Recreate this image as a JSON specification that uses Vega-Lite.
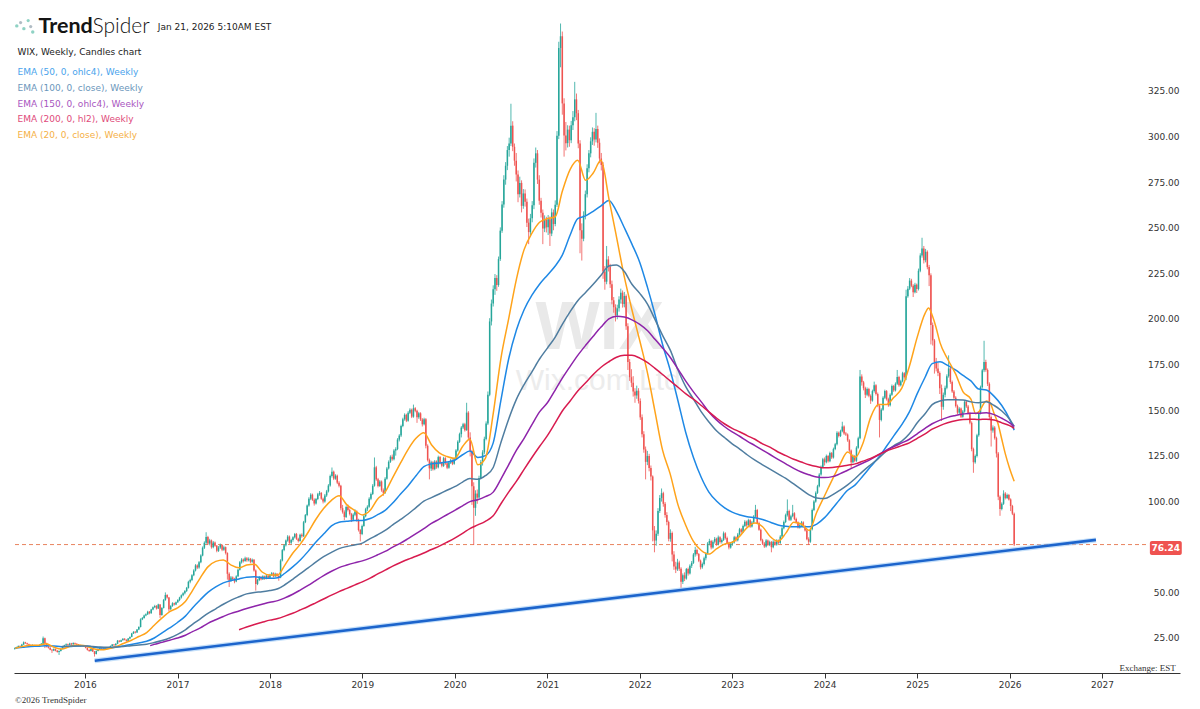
{
"$schema":"https://vega.github.io/schema/vega-lite/v6.json",
"width":1166,"height":673,
"autosize":{"type":"none"},
"padding":{"left":14,"top":0,"right":20,"bottom":36},
"background":"#ffffff",
"config":{"view":{"stroke":null},"font":"DejaVu Sans"},
"data":{"values":[{}]},
"layer":[
{"mark":{"type":"text","align":"center","baseline":"middle","font":"Liberation Sans","fontWeight":"bold","fontSize":68,"color":"#e9e9e9"},"encoding":{"x":{"datum":{"year":2021,"month":7,"date":27},"type":"temporal"},"y":{"datum":194.5,"type":"quantitative"},"text":{"value":"WIX"}}},
{"mark":{"type":"text","align":"center","baseline":"middle","font":"Liberation Sans","fontSize":30,"color":"#ececec"},"encoding":{"x":{"datum":{"year":2021,"month":7,"date":21},"type":"temporal"},"y":{"datum":166.0,"type":"quantitative"},"text":{"value":"Wix.com Ltd"}}},
{"mark":{"type":"rule","strokeDash":[4,3],"color":"#e8845e","strokeWidth":1},"encoding":{"x":{"datum":{"year":2015,"month":3,"date":31},"type":"temporal"},"x2":{"datum":{"year":2027,"month":7,"date":1}},"y":{"datum":76.24,"type":"quantitative"}}},
{"data":{"values":"d,o,h,l,c\n2015-03-30,19.0,19.8,18.6,19.4\n2015-04-06,19.4,20.2,19.1,19.9\n2015-04-13,19.9,20.9,19.6,20.6\n2015-04-20,20.6,21.0,20.0,20.3\n2015-04-27,20.3,21.8,20.1,21.4\n2015-05-04,21.4,23.1,21.2,22.6\n2015-05-11,22.6,22.9,21.8,22.1\n2015-05-18,22.1,22.4,21.3,21.6\n2015-05-25,21.6,21.9,20.7,21.0\n2015-06-01,21.0,21.4,20.5,20.8\n2015-06-08,20.8,21.5,20.6,21.1\n2015-06-15,21.1,21.3,20.2,20.5\n2015-06-22,20.5,21.3,20.3,21.0\n2015-06-29,21.0,21.2,20.3,20.7\n2015-07-06,20.7,21.5,20.4,21.2\n2015-07-13,21.2,22.2,21.0,21.9\n2015-07-20,21.9,25.8,21.7,24.9\n2015-07-27,24.9,25.2,19.5,22.1\n2015-08-03,22.1,22.4,19.8,20.2\n2015-08-10,20.2,20.6,19.2,19.6\n2015-08-17,19.6,19.9,18.3,18.6\n2015-08-24,18.6,19.0,16.8,18.1\n2015-08-31,18.1,19.3,17.8,18.9\n2015-09-07,18.9,19.2,17.7,18.0\n2015-09-14,18.0,18.4,17.0,17.3\n2015-09-21,17.3,18.2,15.7,17.9\n2015-09-28,17.9,19.3,17.6,19.0\n2015-10-05,19.0,20.6,18.8,20.3\n2015-10-12,20.3,21.3,20.0,21.0\n2015-10-19,21.0,22.0,20.7,21.6\n2015-10-26,21.6,21.9,20.8,21.2\n2015-11-02,21.2,22.4,21.0,22.0\n2015-11-09,22.0,22.3,21.2,21.5\n2015-11-16,21.5,22.6,21.3,22.3\n2015-11-23,22.3,22.5,21.5,21.8\n2015-11-30,21.8,22.1,21.1,21.4\n2015-12-07,21.4,21.7,20.6,21.0\n2015-12-14,21.0,21.3,20.2,20.6\n2015-12-21,20.6,21.2,20.4,20.9\n2015-12-28,20.9,21.2,20.1,20.4\n2016-01-04,20.4,20.6,19.3,19.6\n2016-01-11,19.6,19.9,18.1,18.4\n2016-01-18,18.4,18.8,17.4,17.8\n2016-01-25,17.8,19.2,17.6,18.9\n2016-02-01,18.9,19.1,17.3,17.6\n2016-02-08,17.6,17.9,14.8,16.2\n2016-02-15,16.2,18.2,16.0,17.9\n2016-02-22,17.9,19.1,17.7,18.8\n2016-02-29,18.8,19.8,18.5,19.5\n2016-03-07,19.5,19.9,18.9,19.2\n2016-03-14,19.2,19.6,18.5,18.8\n2016-03-21,18.8,19.9,18.6,19.6\n2016-03-28,19.6,19.8,19.0,19.3\n2016-04-04,19.3,20.1,19.1,19.8\n2016-04-11,19.8,20.9,19.6,20.6\n2016-04-18,20.6,21.7,20.4,21.4\n2016-04-25,21.4,21.6,20.7,21.0\n2016-05-02,21.0,22.1,20.8,21.8\n2016-05-09,21.8,23.9,21.6,23.5\n2016-05-16,23.5,23.8,22.6,23.0\n2016-05-23,23.0,24.1,22.8,23.8\n2016-05-30,23.8,24.9,23.6,24.6\n2016-06-06,24.6,24.9,23.7,24.0\n2016-06-13,24.0,24.3,23.0,23.4\n2016-06-20,23.4,25.0,23.2,24.7\n2016-06-27,24.7,25.9,24.3,25.6\n2016-07-04,25.6,27.8,25.4,27.5\n2016-07-11,27.5,28.7,27.2,28.4\n2016-07-18,28.4,28.8,27.5,28.0\n2016-07-25,28.0,29.9,27.8,29.6\n2016-08-01,29.6,31.4,29.3,31.0\n2016-08-08,31.0,35.8,30.8,35.2\n2016-08-15,35.2,36.5,34.8,36.0\n2016-08-22,36.0,37.8,35.6,37.4\n2016-08-29,37.4,38.5,36.9,38.0\n2016-09-05,38.0,39.9,37.6,39.4\n2016-09-12,39.4,39.8,38.0,38.6\n2016-09-19,38.6,41.0,38.3,40.6\n2016-09-26,40.6,42.3,40.2,41.8\n2016-10-03,41.8,43.2,41.4,42.6\n2016-10-10,42.6,43.0,40.6,41.2\n2016-10-17,41.2,43.8,40.9,43.4\n2016-10-24,43.4,43.6,36.0,37.6\n2016-10-31,37.6,41.9,37.2,41.5\n2016-11-07,41.5,46.4,41.2,45.8\n2016-11-14,45.8,50.0,45.4,48.6\n2016-11-21,48.6,49.0,46.6,47.2\n2016-11-28,47.2,47.5,39.5,40.8\n2016-12-05,40.8,43.0,40.4,42.5\n2016-12-12,42.5,44.6,42.1,44.0\n2016-12-19,44.0,44.4,42.8,43.4\n2016-12-26,43.4,45.0,43.0,44.6\n2017-01-02,44.6,46.3,44.2,45.8\n2017-01-09,45.8,47.6,45.2,47.2\n2017-01-16,47.2,48.9,46.6,48.4\n2017-01-23,48.4,50.1,47.9,49.6\n2017-01-30,49.6,51.3,48.9,50.8\n2017-02-06,50.8,53.0,50.2,52.5\n2017-02-13,52.5,56.4,52.1,55.8\n2017-02-20,55.8,57.5,55.0,56.8\n2017-02-27,56.8,60.0,56.2,59.4\n2017-03-06,59.4,62.7,58.9,62.0\n2017-03-13,62.0,65.5,61.5,64.8\n2017-03-20,64.8,65.4,62.8,63.6\n2017-03-27,63.6,67.2,63.0,66.5\n2017-04-03,66.5,70.9,66.0,70.2\n2017-04-10,70.2,75.2,69.8,74.5\n2017-04-17,74.5,78.0,73.8,77.2\n2017-04-24,77.2,83.0,76.4,80.4\n2017-05-01,80.4,81.0,76.0,76.8\n2017-05-08,76.8,79.4,75.8,78.5\n2017-05-15,78.5,79.0,74.0,74.8\n2017-05-22,74.8,78.2,74.2,77.4\n2017-05-29,77.4,77.9,75.0,75.6\n2017-06-05,75.6,76.0,72.0,72.8\n2017-06-12,72.8,75.4,72.2,74.6\n2017-06-19,74.6,76.8,73.9,76.0\n2017-06-26,76.0,76.4,72.6,73.4\n2017-07-03,73.4,75.6,72.8,74.8\n2017-07-10,74.8,75.2,70.8,71.6\n2017-07-17,71.6,72.0,57.0,60.2\n2017-07-24,60.2,61.0,53.0,56.5\n2017-07-31,56.5,59.0,55.8,58.2\n2017-08-07,58.2,58.8,56.6,57.4\n2017-08-14,57.4,58.0,55.0,56.0\n2017-08-21,56.0,59.4,55.6,58.8\n2017-08-28,58.8,63.0,58.4,62.4\n2017-09-04,62.4,67.2,62.0,66.5\n2017-09-11,66.5,68.8,65.8,68.0\n2017-09-18,68.0,68.6,66.4,67.2\n2017-09-25,67.2,69.6,66.8,68.8\n2017-10-02,68.8,69.4,66.8,67.6\n2017-10-09,67.6,69.2,67.0,68.4\n2017-10-16,68.4,68.9,66.0,66.8\n2017-10-23,66.8,68.6,66.2,67.9\n2017-10-30,67.9,68.3,61.4,62.0\n2017-11-06,62.0,62.6,51.0,54.6\n2017-11-13,54.6,57.4,54.0,56.8\n2017-11-20,56.8,59.0,56.2,58.4\n2017-11-27,58.4,59.0,56.6,57.2\n2017-12-04,57.2,59.4,56.8,58.8\n2017-12-11,58.8,59.2,56.9,57.6\n2017-12-18,57.6,59.8,57.2,59.2\n2017-12-25,59.2,59.6,57.4,58.0\n2018-01-01,58.0,60.2,57.6,59.6\n2018-01-08,59.6,61.2,59.0,60.5\n2018-01-15,60.5,61.0,58.2,58.8\n2018-01-22,58.8,60.8,58.4,60.2\n2018-01-29,60.2,60.6,58.4,59.0\n2018-02-05,59.0,59.6,56.4,58.2\n2018-02-12,58.2,68.2,57.8,67.5\n2018-02-19,67.5,73.8,67.0,73.2\n2018-02-26,73.2,76.4,72.6,75.8\n2018-03-05,75.8,79.0,75.2,78.4\n2018-03-12,78.4,81.4,77.8,80.6\n2018-03-19,80.6,81.2,76.6,77.2\n2018-03-26,77.2,79.4,76.4,78.8\n2018-04-02,78.8,80.8,77.8,80.2\n2018-04-09,80.2,82.6,79.6,82.0\n2018-04-16,82.0,82.6,78.8,79.4\n2018-04-23,79.4,80.0,77.4,78.2\n2018-04-30,78.2,82.2,77.8,81.6\n2018-05-07,81.6,82.4,80.0,80.8\n2018-05-14,80.8,89.2,80.4,88.5\n2018-05-21,88.5,93.0,88.0,92.4\n2018-05-28,92.4,98.2,91.8,97.6\n2018-06-04,97.6,102.2,97.0,101.4\n2018-06-11,101.4,104.4,100.6,103.6\n2018-06-18,103.6,104.2,100.2,100.8\n2018-06-25,100.8,101.6,97.6,98.8\n2018-07-02,98.8,101.8,98.2,101.2\n2018-07-09,101.2,104.6,100.6,103.8\n2018-07-16,103.8,105.6,103.0,104.6\n2018-07-23,104.6,105.0,100.8,101.4\n2018-07-30,101.4,102.0,98.8,99.8\n2018-08-06,99.8,104.0,99.2,103.2\n2018-08-13,103.2,106.2,102.4,105.4\n2018-08-20,105.4,109.4,104.8,108.6\n2018-08-27,108.6,114.6,108.0,113.8\n2018-09-03,113.8,118.5,113.0,116.2\n2018-09-10,116.2,116.8,111.6,112.4\n2018-09-17,112.4,114.8,111.8,114.0\n2018-09-24,114.0,114.6,109.4,110.2\n2018-10-01,110.2,111.0,107.6,108.5\n2018-10-08,108.5,109.0,95.0,96.2\n2018-10-15,96.2,98.0,93.2,94.0\n2018-10-22,94.0,95.0,89.6,91.4\n2018-10-29,91.4,97.6,90.8,96.8\n2018-11-05,96.8,98.2,94.4,95.2\n2018-11-12,95.2,96.0,92.2,93.0\n2018-11-19,93.0,93.6,88.6,89.8\n2018-11-26,89.8,93.4,89.2,92.6\n2018-12-03,92.6,95.6,91.8,94.4\n2018-12-10,94.4,95.0,88.8,89.6\n2018-12-17,89.6,90.4,83.4,84.2\n2018-12-24,84.2,84.8,78.0,82.0\n2018-12-31,82.0,87.2,81.4,86.4\n2019-01-07,86.4,92.6,86.0,91.8\n2019-01-14,91.8,96.4,91.2,95.6\n2019-01-21,95.6,97.8,94.6,97.0\n2019-01-28,97.0,102.2,96.4,101.4\n2019-02-04,101.4,104.8,100.6,104.0\n2019-02-11,104.0,109.4,103.4,108.5\n2019-02-18,108.5,124.0,108.0,118.6\n2019-02-25,118.6,119.4,111.2,112.0\n2019-03-04,112.0,112.8,107.6,108.4\n2019-03-11,108.4,111.6,107.8,110.8\n2019-03-18,110.8,111.4,105.2,106.0\n2019-03-25,106.0,107.0,103.0,104.6\n2019-04-01,104.6,113.2,104.0,112.4\n2019-04-08,112.4,118.8,111.8,118.0\n2019-04-15,118.0,122.4,117.4,121.6\n2019-04-22,121.6,125.2,121.0,124.4\n2019-04-29,124.4,125.6,122.2,123.0\n2019-05-06,123.0,128.6,122.4,127.8\n2019-05-13,127.8,129.6,125.0,128.6\n2019-05-20,128.6,134.6,128.0,133.8\n2019-05-27,133.8,136.8,132.8,136.0\n2019-06-03,136.0,142.0,135.2,141.2\n2019-06-10,141.2,145.8,140.6,145.0\n2019-06-17,145.0,148.2,144.2,147.4\n2019-06-24,147.4,148.0,143.4,144.2\n2019-07-01,144.2,149.4,143.6,148.6\n2019-07-08,148.6,151.0,147.8,150.2\n2019-07-15,150.2,150.8,145.6,146.4\n2019-07-22,146.4,153.0,145.8,151.0\n2019-07-29,151.0,151.6,148.8,149.6\n2019-08-05,149.6,150.2,143.0,146.0\n2019-08-12,146.0,149.0,145.2,148.2\n2019-08-19,148.2,148.8,144.0,144.8\n2019-08-26,144.8,145.6,141.0,142.2\n2019-09-02,142.2,145.8,141.6,145.0\n2019-09-09,145.0,145.6,129.0,130.4\n2019-09-16,130.4,131.2,121.8,122.6\n2019-09-23,122.6,123.4,112.0,118.0\n2019-09-30,118.0,122.2,116.6,121.4\n2019-10-07,121.4,122.0,116.8,117.6\n2019-10-14,117.6,122.6,117.0,121.8\n2019-10-21,121.8,122.4,117.8,118.6\n2019-10-28,118.6,125.0,118.0,124.2\n2019-11-04,124.2,124.8,120.2,121.0\n2019-11-11,121.0,121.6,118.6,119.4\n2019-11-18,119.4,124.4,118.8,123.6\n2019-11-25,123.6,124.2,120.0,120.8\n2019-12-02,120.8,121.4,117.6,118.4\n2019-12-09,118.4,122.0,117.8,121.2\n2019-12-16,121.2,123.2,120.4,122.4\n2019-12-23,122.4,123.0,119.8,120.6\n2019-12-30,120.6,124.0,120.0,123.2\n2020-01-06,123.2,128.6,122.6,127.8\n2020-01-13,127.8,133.4,127.2,132.6\n2020-01-20,132.6,137.6,132.0,136.8\n2020-01-27,136.8,141.2,135.0,140.4\n2020-02-03,140.4,143.0,139.6,142.2\n2020-02-10,142.2,143.0,138.2,139.0\n2020-02-17,139.0,154.0,138.6,148.6\n2020-02-24,148.6,149.4,133.6,135.0\n2020-03-02,135.0,137.8,124.6,127.5\n2020-03-09,127.5,128.2,98.0,108.2\n2020-03-16,108.2,110.4,76.0,96.4\n2020-03-23,96.4,106.0,92.0,104.2\n2020-03-30,104.2,106.4,98.6,102.0\n2020-04-06,102.0,114.0,101.4,112.8\n2020-04-13,112.8,122.6,112.0,121.4\n2020-04-20,121.4,128.0,119.6,126.8\n2020-04-27,126.8,135.4,125.8,134.2\n2020-05-04,134.2,143.8,133.4,142.6\n2020-05-11,142.6,160.2,141.8,158.4\n2020-05-18,158.4,200.4,157.6,198.6\n2020-05-25,198.6,210.6,196.4,208.4\n2020-06-01,208.4,218.4,206.8,216.2\n2020-06-08,216.2,224.6,213.2,222.4\n2020-06-15,222.4,224.0,215.4,218.6\n2020-06-22,218.6,234.2,217.6,232.8\n2020-06-29,232.8,250.2,231.8,248.4\n2020-07-06,248.4,264.6,247.2,262.8\n2020-07-13,262.8,278.8,261.0,276.4\n2020-07-20,276.4,286.0,273.6,284.0\n2020-07-27,284.0,294.8,281.6,292.6\n2020-08-03,292.6,299.4,289.0,296.2\n2020-08-10,296.2,318.0,294.8,306.0\n2020-08-17,306.0,308.4,292.0,294.4\n2020-08-24,294.4,296.2,284.0,286.8\n2020-08-31,286.8,291.0,275.4,279.2\n2020-09-07,279.2,281.4,264.0,268.4\n2020-09-14,268.4,278.0,266.6,274.6\n2020-09-21,274.6,276.0,258.4,262.0\n2020-09-28,262.0,271.2,260.4,268.8\n2020-10-05,268.8,271.0,261.6,264.2\n2020-10-12,264.2,266.0,250.4,252.8\n2020-10-19,252.8,255.0,241.0,247.6\n2020-10-26,247.6,257.6,245.2,255.2\n2020-11-02,255.2,264.6,253.0,262.4\n2020-11-09,262.4,288.0,260.2,285.6\n2020-11-16,285.6,294.0,283.0,290.8\n2020-11-23,290.8,292.6,274.0,276.4\n2020-11-30,276.4,278.8,262.6,264.8\n2020-12-07,264.8,266.4,255.6,258.2\n2020-12-14,258.2,260.0,241.0,249.6\n2020-12-21,249.6,256.8,247.6,254.4\n2020-12-28,254.4,256.0,247.4,250.2\n2021-01-04,250.2,257.0,246.0,254.6\n2021-01-11,254.6,256.2,240.0,246.8\n2021-01-18,246.8,260.6,245.4,258.4\n2021-01-25,258.4,260.0,248.6,252.0\n2021-02-01,252.0,265.0,250.8,262.6\n2021-02-08,262.6,303.0,261.4,300.4\n2021-02-15,300.4,352.0,298.6,348.6\n2021-02-22,348.6,362.0,338.0,355.0\n2021-03-01,355.0,357.6,312.0,318.2\n2021-03-08,318.2,321.0,289.0,300.6\n2021-03-15,300.6,308.0,292.4,296.4\n2021-03-22,296.4,306.2,294.0,303.8\n2021-03-29,303.8,306.0,294.4,298.0\n2021-04-05,298.0,308.6,296.4,306.2\n2021-04-12,306.2,314.0,303.6,310.6\n2021-04-19,310.6,330.0,308.4,320.4\n2021-04-26,320.4,323.6,309.0,312.8\n2021-05-03,312.8,314.6,293.6,296.2\n2021-05-10,296.2,298.0,236.0,248.6\n2021-05-17,248.6,252.4,232.0,244.0\n2021-05-24,244.0,259.0,242.6,256.8\n2021-05-31,256.8,270.4,254.6,268.4\n2021-06-07,268.4,284.8,266.6,282.6\n2021-06-14,282.6,292.6,280.4,290.8\n2021-06-21,290.8,299.6,288.6,297.4\n2021-06-28,297.4,305.0,295.4,302.6\n2021-07-05,302.6,304.6,295.0,298.4\n2021-07-12,298.4,313.0,296.8,304.2\n2021-07-19,304.2,306.0,293.8,296.6\n2021-07-26,296.6,299.0,285.4,288.0\n2021-08-02,288.0,291.0,281.4,284.4\n2021-08-09,284.4,286.0,222.0,226.0\n2021-08-16,226.0,229.0,216.0,220.4\n2021-08-23,220.4,240.0,219.0,232.6\n2021-08-30,232.6,234.4,226.0,228.8\n2021-09-06,228.8,230.2,217.0,219.0\n2021-09-13,219.0,221.0,208.0,210.2\n2021-09-20,210.2,212.0,203.4,206.4\n2021-09-27,206.4,208.0,198.6,202.0\n2021-10-04,202.0,207.8,199.8,205.8\n2021-10-11,205.8,212.4,204.0,210.6\n2021-10-18,210.6,216.6,208.4,214.4\n2021-10-25,214.4,215.6,206.2,208.2\n2021-11-01,208.2,214.8,206.4,212.6\n2021-11-08,212.6,213.4,194.0,196.0\n2021-11-15,196.0,197.6,172.0,176.4\n2021-11-22,176.4,178.0,166.0,168.0\n2021-11-29,168.0,172.4,162.6,165.0\n2021-12-06,165.0,168.6,157.4,160.2\n2021-12-13,160.2,162.0,154.0,158.0\n2021-12-20,158.0,163.4,156.2,160.6\n2021-12-27,160.6,162.0,153.6,155.0\n2022-01-03,155.0,156.4,144.6,146.0\n2022-01-10,146.0,147.6,135.0,136.8\n2022-01-17,136.8,138.4,126.6,128.4\n2022-01-24,128.4,130.0,112.0,121.6\n2022-01-31,121.6,127.6,119.8,124.8\n2022-02-07,124.8,126.0,116.4,118.2\n2022-02-14,118.2,119.6,111.4,113.6\n2022-02-21,113.6,114.2,78.0,84.0\n2022-02-28,84.0,86.4,72.0,78.4\n2022-03-07,78.4,84.0,75.6,82.2\n2022-03-14,82.2,96.2,81.0,94.6\n2022-03-21,94.6,103.4,93.6,101.8\n2022-03-28,101.8,107.0,99.8,104.4\n2022-04-04,104.4,105.2,97.0,98.6\n2022-04-11,98.6,99.6,91.0,92.4\n2022-04-18,92.4,94.0,86.8,88.6\n2022-04-25,88.6,89.4,78.0,79.4\n2022-05-02,79.4,84.6,77.8,82.6\n2022-05-09,82.6,83.4,67.0,70.8\n2022-05-16,70.8,72.6,62.4,64.2\n2022-05-23,64.2,66.8,60.6,62.6\n2022-05-30,62.6,68.4,61.8,66.4\n2022-06-06,66.4,67.4,61.8,63.0\n2022-06-13,63.0,63.8,52.5,55.8\n2022-06-20,55.8,60.4,54.6,59.4\n2022-06-27,59.4,61.0,56.2,57.6\n2022-07-04,57.6,63.4,57.0,62.8\n2022-07-11,62.8,63.6,59.2,60.4\n2022-07-18,60.4,65.4,59.8,64.6\n2022-07-25,64.6,67.2,63.4,66.2\n2022-08-01,66.2,71.6,65.6,70.8\n2022-08-08,70.8,75.0,69.6,73.2\n2022-08-15,73.2,74.0,70.2,71.0\n2022-08-22,71.0,71.6,66.6,67.4\n2022-08-29,67.4,68.0,62.6,63.8\n2022-09-05,63.8,66.4,63.0,65.6\n2022-09-12,65.6,69.6,64.8,68.8\n2022-09-19,68.8,72.0,67.6,71.4\n2022-09-26,71.4,77.6,70.8,76.8\n2022-10-03,76.8,79.4,75.8,78.2\n2022-10-10,78.2,78.8,73.6,74.6\n2022-10-17,74.6,78.6,74.0,77.8\n2022-10-24,77.8,80.4,76.8,79.4\n2022-10-31,79.4,80.0,75.6,76.4\n2022-11-07,76.4,81.2,75.8,80.2\n2022-11-14,80.2,80.8,76.8,77.6\n2022-11-21,77.6,79.6,76.8,78.8\n2022-11-28,78.8,83.4,78.2,82.4\n2022-12-05,82.4,83.0,79.0,79.8\n2022-12-12,79.8,80.6,76.2,77.0\n2022-12-19,77.0,77.8,73.6,74.6\n2022-12-26,74.6,77.6,74.0,76.8\n2023-01-02,76.8,78.2,75.6,77.4\n2023-01-09,77.4,81.0,76.8,80.2\n2023-01-16,80.2,80.8,77.8,78.6\n2023-01-23,78.6,82.6,78.0,81.8\n2023-01-30,81.8,85.4,81.2,84.6\n2023-02-06,84.6,85.2,82.4,83.2\n2023-02-13,83.2,87.2,82.6,86.4\n2023-02-20,86.4,89.6,85.8,88.8\n2023-02-27,88.8,89.4,86.0,86.8\n2023-03-06,86.8,90.4,86.2,89.6\n2023-03-13,89.6,90.2,85.4,86.2\n2023-03-20,86.2,89.2,85.6,88.4\n2023-03-27,88.4,92.4,87.8,91.6\n2023-04-03,91.6,98.0,91.0,95.2\n2023-04-10,95.2,95.8,87.4,88.0\n2023-04-17,88.0,88.8,83.8,84.4\n2023-04-24,84.4,85.0,78.0,78.6\n2023-05-01,78.6,79.4,76.0,76.8\n2023-05-08,76.8,77.6,74.4,75.2\n2023-05-15,75.2,79.2,74.6,78.4\n2023-05-22,78.4,79.0,75.4,76.0\n2023-05-29,76.0,78.4,75.4,77.6\n2023-06-05,77.6,78.2,72.0,74.8\n2023-06-12,74.8,78.6,74.2,77.8\n2023-06-19,77.8,78.4,75.6,76.2\n2023-06-26,76.2,79.2,75.6,78.4\n2023-07-03,78.4,79.0,76.6,77.2\n2023-07-10,77.2,81.4,76.6,80.6\n2023-07-17,80.6,86.0,80.0,85.2\n2023-07-24,85.2,89.4,84.6,88.6\n2023-07-31,88.6,93.2,88.0,92.4\n2023-08-07,92.4,101.0,91.6,94.6\n2023-08-14,94.6,95.4,89.2,89.8\n2023-08-21,89.8,92.6,89.2,91.8\n2023-08-28,91.8,98.0,91.2,93.4\n2023-09-04,93.4,94.0,89.6,90.2\n2023-09-11,90.2,91.0,87.8,88.4\n2023-09-18,88.4,89.0,85.0,85.6\n2023-09-25,85.6,87.6,85.0,86.8\n2023-10-02,86.8,89.2,86.2,88.4\n2023-10-09,88.4,89.0,85.6,86.2\n2023-10-16,86.2,86.8,83.4,84.0\n2023-10-23,84.0,84.6,78.6,79.2\n2023-10-30,79.2,80.2,76.0,77.8\n2023-11-06,77.8,85.4,77.2,84.6\n2023-11-13,84.6,96.0,84.0,95.2\n2023-11-20,95.2,100.6,94.6,99.8\n2023-11-27,99.8,105.4,99.2,104.6\n2023-12-04,104.6,109.0,104.0,108.2\n2023-12-11,108.2,115.4,107.6,114.6\n2023-12-18,114.6,119.6,114.0,118.8\n2023-12-25,118.8,123.8,118.2,123.0\n2024-01-01,123.0,124.0,119.6,121.4\n2024-01-08,121.4,125.6,120.8,124.8\n2024-01-15,124.8,125.4,121.2,122.0\n2024-01-22,122.0,127.2,121.4,126.4\n2024-01-29,126.4,127.0,123.2,124.0\n2024-02-05,124.0,129.4,123.4,128.6\n2024-02-12,128.6,132.0,128.0,131.2\n2024-02-19,131.2,138.4,130.6,137.6\n2024-02-26,137.6,138.2,135.0,135.8\n2024-03-04,135.8,139.2,135.2,138.4\n2024-03-11,138.4,143.6,137.8,141.0\n2024-03-18,141.0,141.6,136.4,137.2\n2024-03-25,137.2,138.0,135.8,136.6\n2024-04-01,136.6,137.2,132.6,133.4\n2024-04-08,133.4,134.0,127.0,127.8\n2024-04-15,127.8,128.4,118.0,121.4\n2024-04-22,121.4,125.6,120.8,124.8\n2024-04-29,124.8,125.4,121.4,122.2\n2024-05-06,122.2,130.2,121.6,129.4\n2024-05-13,129.4,135.4,128.8,134.6\n2024-05-20,134.6,172.0,134.0,168.4\n2024-05-27,168.4,169.6,163.4,165.2\n2024-06-03,165.2,166.0,160.8,162.0\n2024-06-10,162.0,162.8,156.6,158.4\n2024-06-17,158.4,162.4,157.6,161.6\n2024-06-24,161.6,162.2,157.0,157.8\n2024-07-01,157.8,158.6,153.4,155.2\n2024-07-08,155.2,161.2,154.6,160.4\n2024-07-15,160.4,165.6,159.6,163.6\n2024-07-22,163.6,164.2,158.0,158.8\n2024-07-29,158.8,159.6,151.6,152.4\n2024-08-05,152.4,153.2,135.0,144.6\n2024-08-12,144.6,151.0,143.8,150.2\n2024-08-19,150.2,157.6,149.6,156.8\n2024-08-26,156.8,161.2,156.0,160.4\n2024-09-02,160.4,161.0,155.2,156.0\n2024-09-09,156.0,156.8,151.8,152.6\n2024-09-16,152.6,159.2,152.0,158.4\n2024-09-23,158.4,164.0,157.8,163.2\n2024-09-30,163.2,163.8,160.0,160.8\n2024-10-07,160.8,165.2,160.2,164.4\n2024-10-14,164.4,172.0,163.8,168.2\n2024-10-21,168.2,168.8,162.8,163.6\n2024-10-28,163.6,166.6,163.0,165.8\n2024-11-04,165.8,171.0,165.2,170.2\n2024-11-11,170.2,170.8,167.2,168.0\n2024-11-18,168.0,216.0,166.4,212.4\n2024-11-25,212.4,218.0,211.6,216.6\n2024-12-02,216.6,222.4,215.8,221.0\n2024-12-09,221.0,222.0,217.4,218.2\n2024-12-16,218.2,219.0,212.0,214.6\n2024-12-23,214.6,219.8,214.0,218.8\n2024-12-30,218.8,219.4,214.2,216.4\n2025-01-06,216.4,227.6,215.6,226.4\n2025-01-13,226.4,236.0,225.6,234.8\n2025-01-20,234.8,244.5,233.6,238.6\n2025-01-27,238.6,240.0,230.4,232.2\n2025-02-03,232.2,238.4,231.0,236.8\n2025-02-10,236.8,237.6,227.2,228.4\n2025-02-17,228.4,229.6,218.0,224.0\n2025-02-24,224.0,225.0,186.0,196.6\n2025-03-03,196.6,198.0,185.4,188.2\n2025-03-10,188.2,189.0,170.0,176.4\n2025-03-17,176.4,178.6,171.2,172.8\n2025-03-24,172.8,176.0,168.6,170.4\n2025-03-31,170.4,171.2,158.8,162.0\n2025-04-07,162.0,164.0,144.0,151.8\n2025-04-14,151.8,159.6,150.2,158.4\n2025-04-21,158.4,163.4,157.0,162.2\n2025-04-28,162.2,169.6,161.4,168.6\n2025-05-05,168.6,180.0,167.8,172.8\n2025-05-12,172.8,173.6,164.4,165.4\n2025-05-19,165.4,166.2,159.4,160.2\n2025-05-26,160.2,161.0,155.6,156.8\n2025-06-02,156.8,157.6,151.4,152.2\n2025-06-09,152.2,153.0,147.6,148.6\n2025-06-16,148.6,151.6,147.8,150.8\n2025-06-23,150.8,151.4,145.6,146.4\n2025-06-30,146.4,150.0,145.8,149.2\n2025-07-07,149.2,155.4,148.6,154.6\n2025-07-14,154.6,155.2,151.2,152.0\n2025-07-21,152.0,152.8,147.6,148.4\n2025-07-28,148.4,149.0,142.2,143.0\n2025-08-04,143.0,143.8,127.4,128.6\n2025-08-11,128.6,129.4,115.6,121.4\n2025-08-18,121.4,125.6,120.6,124.8\n2025-08-25,124.8,137.0,124.0,136.2\n2025-09-01,136.2,149.2,135.4,148.4\n2025-09-08,148.4,163.4,147.6,162.6\n2025-09-15,162.6,172.6,161.8,171.8\n2025-09-22,171.8,188.0,170.8,176.4\n2025-09-29,176.4,177.6,171.0,172.0\n2025-10-06,172.0,172.8,163.2,164.4\n2025-10-13,164.4,165.2,145.0,146.2\n2025-10-20,146.2,147.0,130.0,138.8\n2025-10-27,138.8,141.6,137.6,140.4\n2025-11-03,140.4,141.2,133.8,134.6\n2025-11-10,134.6,135.4,124.0,126.2\n2025-11-17,126.2,127.0,100.6,102.4\n2025-11-24,102.4,103.2,92.0,95.8\n2025-12-01,95.8,99.4,95.0,98.6\n2025-12-08,98.6,106.0,98.0,104.2\n2025-12-15,104.2,105.0,101.0,101.8\n2025-12-22,101.8,104.2,101.2,103.4\n2025-12-29,103.4,104.0,100.4,101.0\n2026-01-05,101.0,101.6,94.6,97.4\n2026-01-12,97.4,98.0,92.4,93.2\n2026-01-19,93.2,93.8,75.4,76.24","format":{"type":"csv","parse":{"d":"date","o":"number","h":"number","l":"number","c":"number"}}},
 "layer":[
  {"mark":{"type":"rule","strokeWidth":0.8},"encoding":{
   "x":{"field":"d","type":"temporal","scale":{"domain":[{"year":2015,"month":3,"date":27},{"year":2027,"month":11,"date":5}]},"axis":{"values":[{"year":2016},{"year":2017},{"year":2018},{"year":2019},{"year":2020},{"year":2021},{"year":2022},{"year":2023},{"year":2024},{"year":2025},{"year":2026},{"year":2027}],"format":"%Y","title":null,"grid":false,"domainColor":"#333333","tickColor":"#333333","tickSize":5,"labelColor":"#333333","labelFont":"DejaVu Sans","labelFontSize":9,"labelPadding":2,"labelFlush":false}},
   "y":{"field":"l","type":"quantitative","scale":{"domain":[5.8,374.9],"nice":false,"zero":false},"axis":{"orient":"right","values":[25,50,100,125,150,175,200,225,250,275,300,325],"format":".2f","labelAlign":"right","labelPadding":-1,"ticks":false,"tickSize":0,"domain":false,"grid":false,"title":null,"labelColor":"#333333","labelFont":"DejaVu Sans","labelFontSize":9}},
   "y2":{"field":"h"},
   "color":{"condition":{"test":"datum.c >= datum.o","value":"#26a69a"},"value":"#ef5350"}}},
  {"mark":{"type":"rule","strokeWidth":1.5},"encoding":{
   "x":{"field":"d","type":"temporal"},
   "y":{"field":"o","type":"quantitative"},
   "y2":{"field":"c"},
   "color":{"condition":{"test":"datum.c >= datum.o","value":"#26a69a"},"value":"#ef5350"}}}
 ]},
{"data":{"values":"d,e20,e50,e100,e150,e200\n2015-04-01,19.4,19.5,,,\n2015-05-01,20.4,19.9,,,\n2015-06-01,21.0,20.3,,,\n2015-07-01,21.0,20.5,,,\n2015-08-01,21.8,20.8,,,\n2015-09-01,19.9,20.6,,,\n2015-10-01,18.9,20.2,20.4,,\n2015-11-01,20.3,20.3,20.5,,\n2015-12-01,21.2,20.6,20.6,,\n2016-01-01,20.8,20.7,20.6,,\n2016-02-01,19.2,20.1,20.3,,\n2016-03-01,18.5,19.6,20.0,,\n2016-04-01,19.0,19.5,19.9,,\n2016-05-01,20.2,19.9,20.0,,\n2016-06-01,22.0,20.6,20.3,,\n2016-07-01,23.6,21.4,20.8,,\n2016-08-01,25.8,22.3,21.2,,\n2016-09-01,28.0,23.2,21.6,,\n2016-09-15,,,,20.8,\n2016-10-01,32.0,25.0,22.5,21.5,\n2016-11-01,36.0,27.8,23.6,22.6,\n2016-12-01,39.5,30.5,25.0,23.8,\n2017-01-01,41.5,33.5,27.0,25.0,\n2017-02-01,45.0,37.0,29.5,26.5,\n2017-03-01,51.0,41.5,32.5,28.5,\n2017-04-01,58.0,46.0,35.5,30.5,\n2017-05-01,64.0,50.0,38.5,33.0,\n2017-06-01,67.0,53.0,41.0,35.0,\n2017-07-01,67.8,55.2,43.5,36.8,\n2017-08-01,65.0,56.5,45.8,38.5,\n2017-09-01,63.5,57.4,47.6,39.8,29.5\n2017-10-01,65.0,58.3,49.2,41.2,31.0\n2017-11-01,65.5,58.6,50.0,42.4,32.4\n2017-12-01,61.2,58.0,50.3,43.5,33.6\n2018-01-01,59.5,57.7,51.0,44.6,34.8\n2018-02-01,59.6,58.0,52.0,45.5,35.7\n2018-03-01,65.0,60.5,54.2,47.0,37.0\n2018-04-01,71.5,64.0,57.2,49.0,38.6\n2018-05-01,76.5,67.8,60.3,51.3,40.4\n2018-06-01,83.0,72.5,63.4,53.8,42.3\n2018-07-01,90.0,77.5,66.6,56.5,44.3\n2018-08-01,96.0,82.0,69.6,59.2,46.4\n2018-09-01,100.5,86.5,72.0,61.6,48.5\n2018-10-01,103.0,88.5,74.0,63.6,50.4\n2018-11-01,98.0,89.0,75.2,65.0,52.2\n2018-12-01,95.0,89.5,76.0,66.2,54.0\n2019-01-01,92.5,89.5,77.0,67.3,55.8\n2019-02-01,95.0,90.5,79.5,68.8,57.8\n2019-03-01,101.0,92.5,81.5,70.5,60.0\n2019-04-01,105.0,95.0,84.0,72.5,62.2\n2019-05-01,113.0,99.0,87.0,74.8,64.4\n2019-06-01,121.0,104.0,90.0,77.0,66.4\n2019-07-01,128.5,108.5,93.0,79.5,68.2\n2019-08-01,134.5,114.0,96.5,82.2,69.8\n2019-09-01,137.5,119.0,100.0,85.0,71.6\n2019-10-01,131.0,120.5,102.0,87.8,73.5\n2019-11-01,126.5,121.0,104.0,90.2,75.4\n2019-12-01,124.5,121.5,106.0,92.6,77.5\n2020-01-01,123.5,122.5,108.0,95.0,79.8\n2020-02-01,130.0,125.5,110.5,97.5,82.4\n2020-03-01,134.0,127.5,112.5,99.8,85.0\n2020-04-01,120.0,124.0,112.0,100.8,87.0\n2020-05-01,123.5,125.0,114.0,102.5,89.0\n2020-06-01,148.0,132.0,118.5,105.0,92.0\n2020-07-01,178.0,155.0,132.0,112.0,98.5\n2020-08-01,200.0,178.0,145.0,120.0,105.0\n2020-09-01,222.0,194.0,156.0,128.0,111.0\n2020-10-01,238.0,205.0,164.0,134.5,117.5\n2020-11-01,247.0,213.0,171.0,142.0,124.0\n2020-12-01,253.0,219.0,178.0,149.0,130.0\n2021-01-01,255.0,224.0,184.0,154.0,136.0\n2021-02-01,256.0,229.0,190.0,161.0,143.0\n2021-03-01,270.0,235.0,197.0,167.5,149.5\n2021-04-01,282.0,246.0,204.0,174.0,155.0\n2021-05-01,287.0,255.0,210.0,180.0,160.5\n2021-06-01,276.0,256.5,214.5,185.5,165.0\n2021-07-01,280.0,259.0,219.0,190.5,169.5\n2021-08-01,287.0,262.0,224.0,195.5,173.5\n2021-09-01,266.0,265.0,229.0,200.0,176.5\n2021-10-01,245.0,259.0,229.5,201.5,179.0\n2021-11-01,223.0,250.0,226.0,201.0,180.0\n2021-12-01,205.0,241.0,219.0,199.5,180.0\n2022-01-01,188.0,231.0,214.0,197.0,178.5\n2022-02-01,170.0,217.0,208.0,193.5,176.0\n2022-03-01,150.0,203.0,200.0,189.0,173.0\n2022-04-01,128.0,186.0,191.0,184.0,169.5\n2022-05-01,115.0,172.0,183.0,179.0,166.0\n2022-06-01,98.0,155.0,172.0,172.5,162.5\n2022-07-01,87.0,138.0,163.0,166.0,159.0\n2022-08-01,78.0,124.0,156.0,160.0,156.0\n2022-09-01,73.0,113.0,149.0,154.5,152.5\n2022-10-01,71.0,105.0,143.5,149.0,149.0\n2022-11-01,74.0,100.0,138.5,144.5,145.5\n2022-12-01,76.5,96.5,135.0,141.0,142.5\n2023-01-01,77.5,94.0,131.5,138.0,140.0\n2023-02-01,81.0,92.5,128.5,135.5,138.0\n2023-03-01,85.5,91.5,125.5,133.0,136.0\n2023-04-01,88.0,91.0,122.5,130.5,134.0\n2023-05-01,86.0,90.0,120.0,128.0,131.5\n2023-06-01,80.5,88.5,117.5,125.5,129.5\n2023-07-01,78.0,87.0,115.0,123.0,127.0\n2023-08-01,82.5,86.3,112.5,120.5,125.0\n2023-09-01,88.5,86.0,109.5,118.0,123.0\n2023-10-01,87.5,86.0,106.5,116.0,121.5\n2023-11-01,84.0,86.0,103.5,114.5,120.0\n2023-12-01,94.0,87.5,101.8,113.3,119.0\n2024-01-01,103.0,91.0,101.5,113.0,118.3\n2024-02-01,112.0,96.0,103.5,113.5,118.5\n2024-03-01,120.0,101.0,106.0,115.0,119.0\n2024-04-01,127.0,106.0,109.0,117.0,119.8\n2024-05-01,124.0,109.0,112.5,119.0,120.5\n2024-06-01,132.0,114.0,116.5,121.0,122.0\n2024-07-01,146.0,119.0,120.0,123.0,123.5\n2024-08-01,153.0,124.0,123.5,125.5,125.5\n2024-09-01,153.0,130.0,127.5,128.0,127.5\n2024-10-01,157.0,136.0,130.5,130.0,129.0\n2024-11-01,162.0,142.0,133.0,132.0,130.5\n2024-12-01,174.0,149.0,137.0,134.0,132.0\n2025-01-01,190.0,159.0,143.0,137.0,134.5\n2025-02-01,203.0,168.0,148.0,140.0,137.0\n2025-02-15,206.0,,,,\n2025-03-01,202.0,175.5,153.0,142.5,139.5\n2025-03-15,196.0,,,,\n2025-04-01,187.0,176.5,155.0,144.5,141.5\n2025-05-01,178.0,174.5,155.6,146.0,143.0\n2025-06-01,170.0,172.0,155.6,147.0,144.2\n2025-07-01,160.0,169.0,155.5,147.8,144.8\n2025-08-01,156.0,166.0,154.5,148.3,145.0\n2025-08-20,148.0,,,,\n2025-09-01,149.0,161.5,154.0,148.2,144.8\n2025-10-01,155.0,161.0,154.5,148.5,145.0\n2025-10-15,154.0,,,,\n2025-11-01,148.0,157.5,152.5,147.5,144.5\n2025-11-15,143.0,,,,\n2025-12-01,134.0,152.5,149.5,145.5,143.0\n2025-12-15,126.0,,,,\n2026-01-01,118.0,145.0,145.0,143.0,141.5\n2026-01-19,111.0,139.0,141.0,141.0,140.0","format":{"type":"csv","parse":{"d":"date","e20":"number","e50":"number","e100":"number","e150":"number","e200":"number"}}},
 "transform":[{"fold":["e50","e100","e150","e200","e20"],"as":["k","v"]},{"filter":"isValid(datum.v)"}],
 "mark":{"type":"line","strokeWidth":1.5,"interpolate":"monotone"},
 "encoding":{"x":{"field":"d","type":"temporal"},"y":{"field":"v","type":"quantitative"},"color":{"field":"k","type":"nominal","scale":{"domain":["e50","e100","e150","e200","e20"],"range":["#1e88e5","#4f7da0","#8e24aa","#d81b4f","#ffa31a"]},"legend":null}}},
{"data":{"values":[{"d":"2016-02-09","v":12.55},{"d":"2026-12-08","v":78.8}]},
 "layer":[
  {"mark":{"type":"line","strokeWidth":5,"color":"#9cc9f5","opacity":0.6},"encoding":{"x":{"field":"d","type":"temporal"},"y":{"field":"v","type":"quantitative"}}},
  {"mark":{"type":"line","strokeWidth":2.6,"color":"#1c64cc"},"encoding":{"x":{"field":"d","type":"temporal"},"y":{"field":"v","type":"quantitative"}}}
 ]},
{"mark":{"type":"rect","color":"#ef5350","cornerRadius":2},"encoding":{"x":{"datum":{"year":2027,"month":7,"date":9},"type":"temporal"},"x2":{"datum":{"year":2027,"month":11,"date":12}},"y":{"datum":78.2,"type":"quantitative"},"y2":{"datum":70.5}}},
{"mark":{"type":"text","align":"center","baseline":"middle","font":"DejaVu Sans","fontSize":9,"fontWeight":"bold","color":"#ffffff"},"encoding":{"x":{"datum":{"year":2027,"month":9,"date":10},"type":"temporal"},"y":{"datum":74.36,"type":"quantitative"},"text":{"value":"76.24"}}},
{"mark":{"type":"point","filled":true,"size":12,"color":"#5fbfab"},"encoding":{"x":{"datum":{"year":2015,"month":4,"date":7},"type":"temporal"},"y":{"datum":360.7,"type":"quantitative"}}},
{"mark":{"type":"point","filled":true,"size":10,"color":"#8fa0ab"},"encoding":{"x":{"datum":{"year":2015,"month":4,"date":22},"type":"temporal"},"y":{"datum":362.5,"type":"quantitative"}}},
{"mark":{"type":"point","filled":true,"size":12,"color":"#5fbfab"},"encoding":{"x":{"datum":{"year":2015,"month":5,"date":5},"type":"temporal"},"y":{"datum":359.2,"type":"quantitative"}}},
{"mark":{"type":"point","filled":true,"size":10,"color":"#5fbfab"},"encoding":{"x":{"datum":{"year":2015,"month":5,"date":22},"type":"temporal"},"y":{"datum":363.6,"type":"quantitative"}}},
{"mark":{"type":"point","filled":true,"size":10,"color":"#8fa0ab"},"encoding":{"x":{"datum":{"year":2015,"month":6,"date":1},"type":"temporal"},"y":{"datum":360.3,"type":"quantitative"}}},
{"mark":{"type":"point","filled":true,"size":12,"color":"#5fbfab"},"encoding":{"x":{"datum":{"year":2015,"month":6,"date":9},"type":"temporal"},"y":{"datum":357.4,"type":"quantitative"}}},
{"mark":{"type":"text","align":"left","baseline":"middle","font":"Lato","fontSize":21.5,"fontWeight":"bold","color":"#141414"},"encoding":{"x":{"datum":{"year":2015,"month":7,"date":2},"type":"temporal"},"y":{"datum":360.3,"type":"quantitative"},"text":{"value":"Trend"}}},
{"mark":{"type":"text","align":"left","baseline":"middle","font":"Lato","fontSize":21,"fontWeight":300,"color":"#141414"},"encoding":{"x":{"datum":{"year":2016,"month":1,"date":31},"type":"temporal"},"y":{"datum":360.3,"type":"quantitative"},"text":{"value":"Spider"}}},
{"mark":{"type":"text","align":"left","baseline":"middle","font":"DejaVu Sans","fontSize":9,"color":"#222222"},"encoding":{"x":{"datum":{"year":2016,"month":10,"date":15},"type":"temporal"},"y":{"datum":360.0,"type":"quantitative"},"text":{"value":"Jan 21, 2026 5:10AM EST"}}},
{"mark":{"type":"text","align":"left","baseline":"middle","font":"DejaVu Sans","fontSize":9,"color":"#222222"},"encoding":{"x":{"datum":{"year":2015,"month":4,"date":10},"type":"temporal"},"y":{"datum":346.3,"type":"quantitative"},"text":{"value":"WIX, Weekly, Candles chart"}}},
{"mark":{"type":"text","align":"left","baseline":"middle","font":"DejaVu Sans","fontSize":9,"color":"#4aa3ec"},"encoding":{"x":{"datum":{"year":2015,"month":4,"date":10},"type":"temporal"},"y":{"datum":335.3,"type":"quantitative"},"text":{"value":"EMA (50, 0, ohlc4), Weekly"}}},
{"mark":{"type":"text","align":"left","baseline":"middle","font":"DejaVu Sans","fontSize":9,"color":"#6b96bb"},"encoding":{"x":{"datum":{"year":2015,"month":4,"date":10},"type":"temporal"},"y":{"datum":326.7,"type":"quantitative"},"text":{"value":"EMA (100, 0, close), Weekly"}}},
{"mark":{"type":"text","align":"left","baseline":"middle","font":"DejaVu Sans","fontSize":9,"color":"#a855c0"},"encoding":{"x":{"datum":{"year":2015,"month":4,"date":10},"type":"temporal"},"y":{"datum":318.1,"type":"quantitative"},"text":{"value":"EMA (150, 0, ohlc4), Weekly"}}},
{"mark":{"type":"text","align":"left","baseline":"middle","font":"DejaVu Sans","fontSize":9,"color":"#e04a7a"},"encoding":{"x":{"datum":{"year":2015,"month":4,"date":10},"type":"temporal"},"y":{"datum":309.7,"type":"quantitative"},"text":{"value":"EMA (200, 0, hl2), Weekly"}}},
{"mark":{"type":"text","align":"left","baseline":"middle","font":"DejaVu Sans","fontSize":9,"color":"#f5b045"},"encoding":{"x":{"datum":{"year":2015,"month":4,"date":10},"type":"temporal"},"y":{"datum":301.1,"type":"quantitative"},"text":{"value":"EMA (20, 0, close), Weekly"}}},
{"mark":{"type":"text","align":"right","baseline":"middle","font":"Liberation Sans Narrow","fontSize":9,"color":"#333333"},"encoding":{"x":{"datum":{"year":2027,"month":10,"date":19},"type":"temporal"},"y":{"datum":8.55,"type":"quantitative"},"text":{"value":"Exchange: EST"}}},
{"mark":{"type":"text","align":"left","baseline":"middle","font":"Liberation Sans Narrow","fontSize":9,"color":"#333333"},"encoding":{"x":{"datum":{"year":2015,"month":3,"date":31},"type":"temporal"},"y":{"datum":-9.0,"type":"quantitative"},"text":{"value":"©2026 TrendSpider"}}}
]
}
